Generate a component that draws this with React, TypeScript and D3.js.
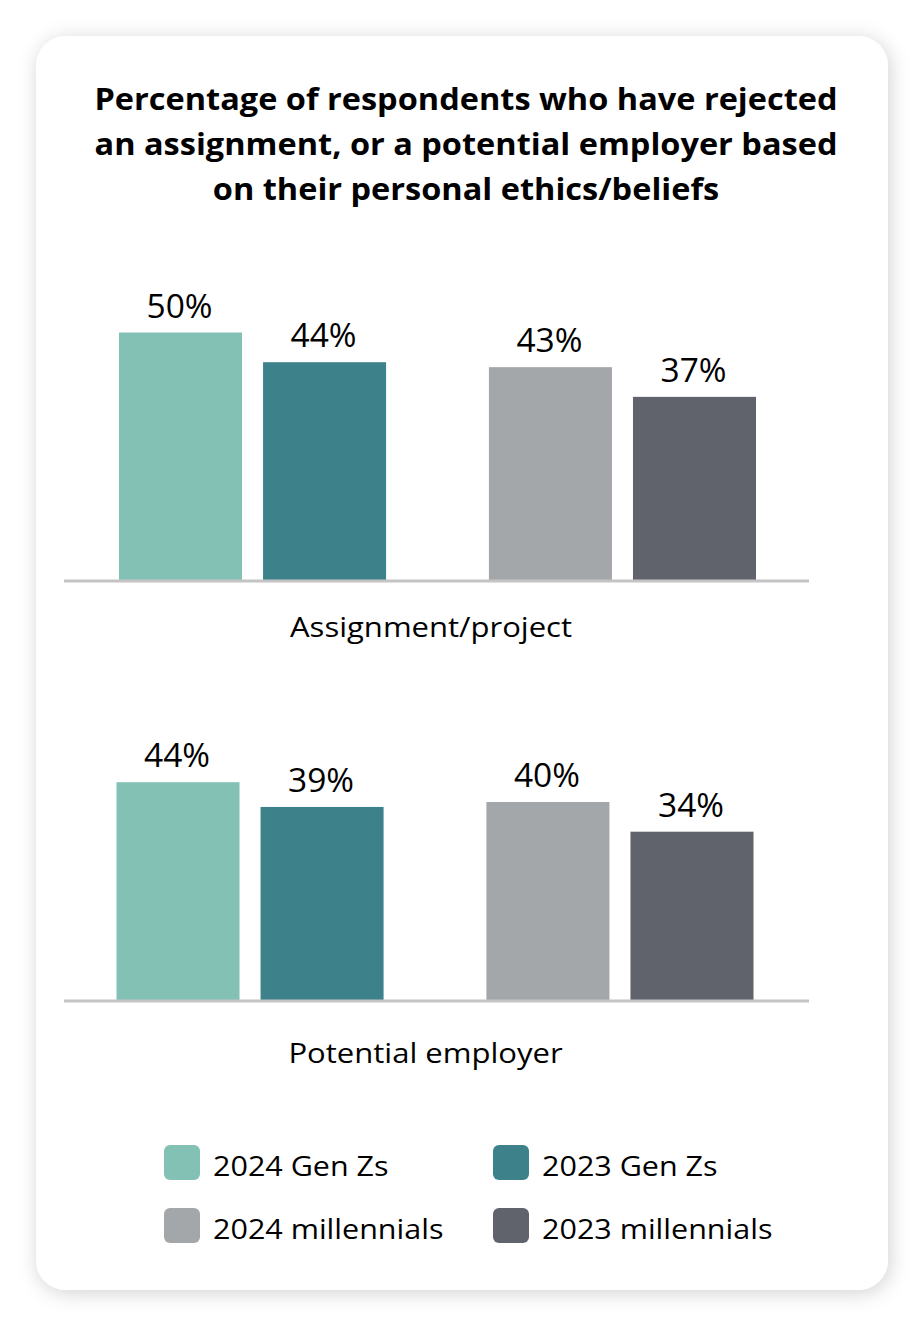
import React from "react";
import * as d3 from "d3";

const titleLines = [
  "Percentage of respondents who have rejected",
  "an assignment, or a potential employer based",
  "on their personal ethics/beliefs",
];
const panels = ["Assignment/project", "Potential employer"];
const groups = ["Gen Zs", "millennials"];
const years = ["2024", "2023"];
const seriesNames = ["2024 Gen Zs", "2023 Gen Zs", "2024 millennials", "2023 millennials"];
const seriesColors = ["#84c1b5", "#3d818b", "#a4a7aa", "#60636b"];
// values per panel, ordered by seriesNames
const assignmentValues = [50, 44, 43, 37];
const employerValues = [44, 39, 40, 34];
const panelValues = [assignmentValues, employerValues];

const W = 924;
const H = 1326;
const FONT = "'Open Sans', 'Noto Sans', sans-serif";

function Stretched({
  x,
  y,
  sx,
  anchor,
  size,
  weight,
  children,
}: {
  x: number;
  y: number;
  sx: number;
  anchor: "start" | "middle" | "end";
  size: number;
  weight?: number;
  children: React.ReactNode;
}) {
  return (
    <text
      transform={`translate(${x},${y}) scale(${sx},1)`}
      textAnchor={anchor}
      fontFamily={FONT}
      fontWeight={weight ?? 400}
      fontSize={size}
      fill="#000"
    >
      {children}
    </text>
  );
}

export default function App() {
  const panelLayout = [
    { baseline: 580, x0: 119, x1: 756, labelX: 431, labelY: 637 },
    { baseline: 1000, x0: 116.5, x1: 753.5, labelX: 425.5, labelY: 1063 },
  ];
  const pxPerPct = 4.95;

  return (
    <svg
      width={W}
      height={H}
      style={{ position: "absolute", left: 0, top: 0, background: "#ffffff" }}
    >
      <defs>
        <filter id="shadow" x="-10%" y="-10%" width="120%" height="120%">
          <feDropShadow dx="2" dy="3" stdDeviation="10" floodColor="#000" floodOpacity="0.18" />
        </filter>
      </defs>
      <rect x={36} y={36} width={852} height={1254} rx={30} ry={30} fill="#ffffff" filter="url(#shadow)" />
      {titleLines.map((t, i) => (
        <Stretched key={i} x={466} y={110 + i * 45} sx={1.066} anchor="middle" size={30.5} weight={700}>
          {t}
        </Stretched>
      ))}
      {panelValues.map((vals, pi) => {
        const L = panelLayout[pi];
        const x0 = d3.scaleBand<string>().domain(groups).range([L.x0, L.x1]).paddingInner(0.278).paddingOuter(0);
        const x1 = d3
          .scaleBand<string>()
          .domain(years)
          .range([0, x0.bandwidth()])
          .paddingInner(0.146)
          .paddingOuter(0);
        const maxV = 50;
        const y = d3.scaleLinear().domain([0, maxV]).range([L.baseline, L.baseline - maxV * pxPerPct]);
        return (
          <g key={pi}>
            {vals.map((v, si) => {
              const g = groups[Math.floor(si / 2)];
              const yr = years[si % 2];
              const bx = (x0(g) ?? 0) + (x1(yr) ?? 0);
              const bw = x1.bandwidth();
              return (
                <g key={si}>
                  <rect x={bx} y={y(v)} width={bw} height={L.baseline - y(v)} fill={seriesColors[si]} />
                  <Stretched x={bx + bw / 2 - 1} y={y(v) - 15} sx={1} anchor="middle" size={33.5}>
                    {v}%
                  </Stretched>
                </g>
              );
            })}
            <line x1={64} x2={809} y1={L.baseline + 1} y2={L.baseline + 1} stroke="#c4c4c4" strokeWidth={3} />
            <Stretched x={L.labelX} y={L.labelY} sx={1.15} anchor="middle" size={27}>
              {panels[pi]}
            </Stretched>
          </g>
        );
      })}
      {seriesNames.map((n, i) => {
        const col = i % 2;
        const row = Math.floor(i / 2);
        const sx = 164 + col * 329;
        const sy = 1145 + row * 63;
        return (
          <g key={n}>
            <rect x={sx} y={sy} width={36} height={35} rx={6} ry={6} fill={seriesColors[i]} />
            <Stretched x={sx + 49} y={sy + 31} sx={1.13} anchor="start" size={27}>
              {n}
            </Stretched>
          </g>
        );
      })}
    </svg>
  );
}
